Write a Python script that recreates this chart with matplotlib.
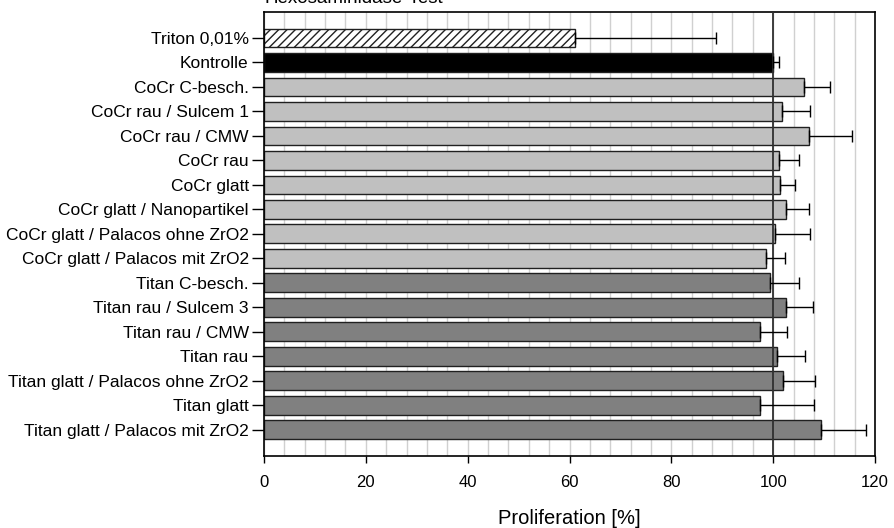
import numpy as np
import matplotlib
matplotlib.use("Agg")
import matplotlib.pyplot as plt

plt.rcParams['font.family'] = ['Liberation Sans', 'DejaVu Sans']

# Daten (von oben nach unten)
kategorien = [
    "Triton 0,01%",
    "Kontrolle",
    "CoCr C-besch.",
    "CoCr rau / Sulcem 1",
    "CoCr rau / CMW",
    "CoCr rau",
    "CoCr glatt",
    "CoCr glatt / Nanopartikel",
    "CoCr glatt / Palacos ohne ZrO2",
    "CoCr glatt / Palacos mit ZrO2",
    "Titan C-besch.",
    "Titan rau / Sulcem 3",
    "Titan rau / CMW",
    "Titan rau",
    "Titan glatt / Palacos ohne ZrO2",
    "Titan glatt",
    "Titan glatt / Palacos mit ZrO2",
]
proliferation = [61.0, 100.0, 106.0, 101.7, 107.0, 101.2, 101.4, 102.6, 100.3, 98.5,
                 99.4, 102.6, 97.4, 100.8, 102.0, 97.4, 109.3]
fehler = [27.7, 1.2, 5.1, 5.6, 8.5, 3.9, 2.9, 4.4, 7.0, 3.8,
          5.7, 5.3, 5.4, 5.4, 6.2, 10.7, 9.0]
gruppe = ["triton", "kontrolle"] + ["cocr"] * 8 + ["titan"] * 7

farben = {"triton": "white", "kontrolle": "black", "cocr": "#C0C0C0", "titan": "#808080"}

fig = plt.figure(figsize=(8.94, 5.28), dpi=100)
ax = fig.add_axes([264 / 894, 72.5 / 528, 611 / 894, 443.2 / 528])

y = np.arange(len(kategorien))

# Gitterlinien alle 4 %
for gx in np.arange(0, 121, 4):
    ax.axvline(gx, color="#D0D0D0", lw=1.0, zorder=0)

for i, (v, g) in enumerate(zip(proliferation, gruppe)):
    ax.barh(y[i], v, height=0.77, color=farben[g], edgecolor="#202020", linewidth=1.0,
            hatch="////" if g == "triton" else None, zorder=2)

ax.axvline(100, color="#303030", lw=1.3, zorder=3)

ax.errorbar(proliferation, y, xerr=[np.zeros(len(fehler)), fehler], fmt="none",
            ecolor="black", elinewidth=1.0, capsize=4.5, capthick=1.0, zorder=4)

ax.set_xlim(0, 120)
ax.set_ylim(len(kategorien) - 1 + 1.05, -1.05)
ax.set_xticks(np.arange(0, 121, 20))
ax.set_yticks(y)
ax.set_yticklabels(kategorien)
ax.tick_params(axis="x", direction="out", length=5, width=1, labelsize=12, pad=9)
ax.tick_params(axis="y", direction="out", length=9, width=1, labelsize=12.5, pad=2)
for s in ax.spines.values():
    s.set_linewidth(1.2)
    s.set_color("black")

ax.set_xlabel("Proliferation [%]", fontsize=14.5)
ax.xaxis.label.set_va("baseline")
ax.xaxis.set_label_coords(0.5, -(524 - 455.5) / 443.2)

fig.text(265 / 894, 1 - 3 / 528, "Hexosaminidase-Test", fontsize=13.5,
         ha="left", va="baseline")

fig.savefig("out.png", dpi=100)
